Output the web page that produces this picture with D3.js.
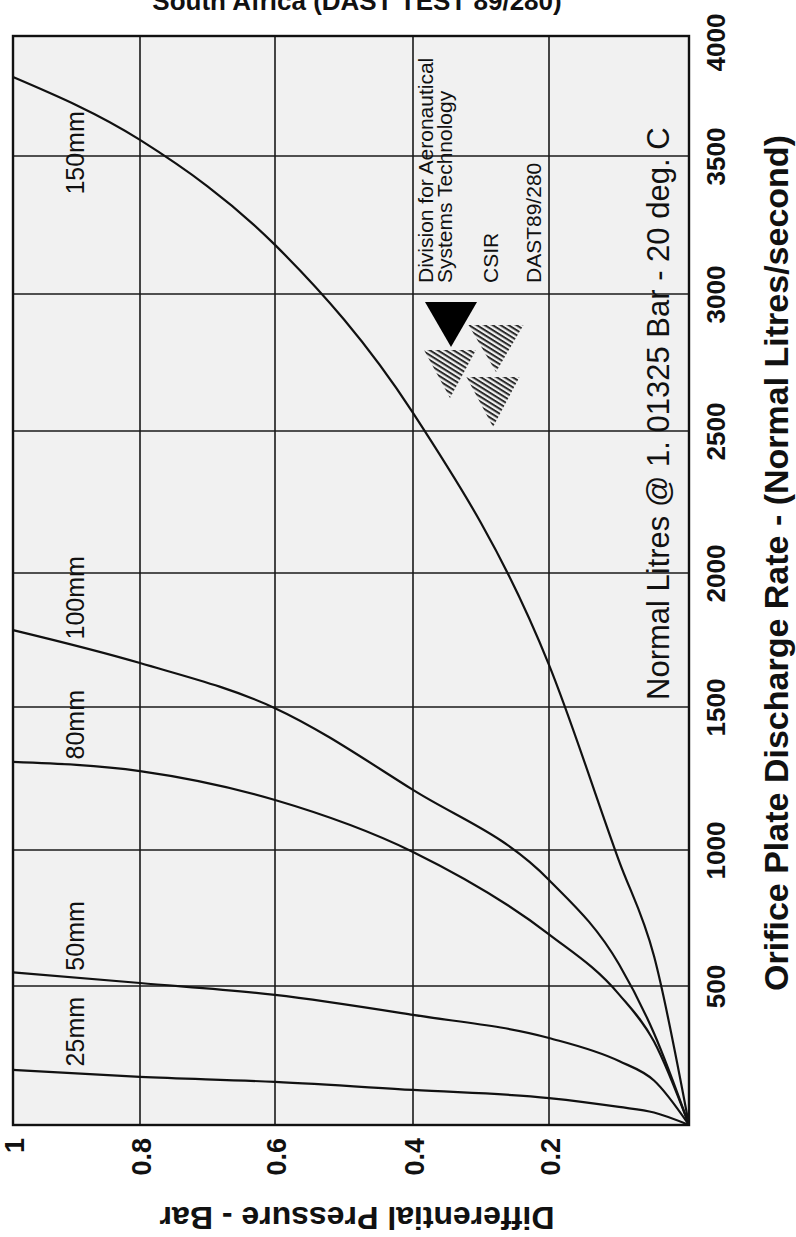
<!DOCTYPE html>
<html>
<head>
<meta charset="utf-8">
<script src="https://cdn.jsdelivr.net/npm/d3@7/dist/d3.min.js"></script>
<style>
  html, body { margin: 0; padding: 0; background: #fff; }
  svg { display: block; }
  text { font-family: "Liberation Sans", Arial, Helvetica, sans-serif; fill: #111; }
</style>
</head>
<body>
<svg id="chart" width="796" height="1237"></svg>
<script>
// Orifice plate discharge curves, DAST test 89/280 (CSIR).
const pressureTicks = [1, 0.8, 0.6, 0.4, 0.2, 0];
const pressureTickLabels = ["1", "0.8", "0.6", "0.4", "0.2", ""];
const flowTicks = [0, 500, 1000, 1500, 2000, 2500, 3000, 3500, 4000];
const flowTickLabels = ["", "500", "1000", "1500", "2000", "2500", "3000", "3500", "4000"];

// differential pressure (bar) at which each discharge rate is read
const pressures = [1, 0.8, 0.6, 0.4, 0.2, 0.1, 0.05, 0];
const plateSizes = ["25mm", "50mm", "80mm", "100mm", "150mm"];
const flow25 = [198, 173, 155, 126, 97, 65, 45, 0];
const flow50 = [550, 511, 468, 396, 313, 230, 160, 0];
const flow80 = [1308, 1276, 1175, 993, 690, 470, 300, 0];
const flow100 = [1787, 1664, 1496, 1210, 890, 580, 330, 0];
const flow150 = [3829, 3567, 3178, 2566, 1657, 960, 610, 0];
const flowSeries = [flow25, flow50, flow80, flow100, flow150];

const svg = d3.select("#chart");

// The printed grid is slightly uneven, so every tick keeps its own position.
const x = d3.scaleLinear().domain(pressureTicks).range([13, 140, 275, 413, 549, 689]);
const y = d3.scaleLinear().domain(flowTicks).range([1125, 986, 850, 707, 573, 431, 294, 156, 36]);

const [x0, x1] = [x(1), x(0)];
const [yTop, yBot] = [y(4000), y(0)];

// plot background
svg.append("rect")
  .attr("x", x0).attr("y", yTop)
  .attr("width", x1 - x0).attr("height", yBot - yTop)
  .attr("fill", "#f1f1f1");

// grid
const grid = svg.append("g").attr("stroke", "#1a1a1a").attr("stroke-width", 1.6);
grid.selectAll("line.v").data(pressureTicks.slice(1, -1)).join("line")
  .attr("x1", d => x(d)).attr("x2", d => x(d))
  .attr("y1", yTop).attr("y2", yBot);
grid.selectAll("line.h").data(flowTicks.slice(1, -1)).join("line")
  .attr("x1", x0).attr("x2", x1)
  .attr("y1", d => y(d)).attr("y2", d => y(d));

// frame
svg.append("rect")
  .attr("x", x0).attr("y", yTop)
  .attr("width", x1 - x0).attr("height", yBot - yTop)
  .attr("fill", "none").attr("stroke", "#111").attr("stroke-width", 2.4);

// axes: flow along the right edge, pressure along the bottom, labels turned
const flowAxis = d3.axisRight(y).tickValues(flowTicks).tickSize(0)
  .tickFormat((d, i) => flowTickLabels[i]);
const fa = svg.append("g").attr("transform", `translate(${x1},0)`).call(flowAxis);
fa.select(".domain").remove();
fa.selectAll("text")
  .attr("x", 0).attr("y", 0).attr("dy", null)
  .attr("text-anchor", "middle")
  .attr("transform", d => `translate(36,${d === 4000 ? 6 : 0}) rotate(-90)`)
  .style("font-size", "26px").style("font-weight", "bold").style("fill", "#111");

const pressureAxis = d3.axisBottom(x).tickValues(pressureTicks).tickSize(0)
  .tickFormat((d, i) => pressureTickLabels[i]);
const pa = svg.append("g").attr("transform", `translate(0,${yBot})`).call(pressureAxis);
pa.select(".domain").remove();
pa.selectAll("text")
  .attr("x", 0).attr("y", 0).attr("dy", null)
  .attr("text-anchor", "end")
  .attr("transform", "translate(10,13) rotate(-90)")
  .style("font-size", "27px").style("font-weight", "bold").style("fill", "#111");

// axis titles
svg.append("text")
  .attr("transform", `translate(788,${(y(2000) + y(1500)) / 2 - 77}) rotate(-90)`)
  .attr("text-anchor", "middle")
  .style("font-size", "34px").style("font-weight", "bold")
  .text("Orifice Plate Discharge Rate - (Normal Litres/second)");

svg.append("text")
  .attr("transform", `translate(357,1207) rotate(180)`)
  .attr("text-anchor", "middle")
  .style("font-size", "32px").style("font-weight", "bold")
  .text("Differential Pressure - Bar");

svg.append("text")
  .attr("x", 357).attr("y", 10)
  .attr("text-anchor", "middle")
  .style("font-size", "26px").style("font-weight", "bold")
  .text("South Africa (DAST TEST 89/280)");

// reference conditions
svg.append("text")
  .attr("transform", "translate(669,700) rotate(-90)")
  .attr("text-anchor", "start")
  .style("font-size", "31px")
  .text("Normal Litres @ 1. 01325 Bar - 20 deg. C");

// discharge curves
const line = d3.line()
  .x(d => x(d[0]))
  .y(d => y(d[1]))
  .curve(d3.curveMonotoneX);

svg.append("g").selectAll("path").data(flowSeries).join("path")
  .attr("d", s => line(pressures.map((p, i) => [p, s[i]])))
  .attr("fill", "none").attr("stroke", "#111").attr("stroke-width", 2.2);

// plate size labels, along the left edge next to each curve
const labelX = 84;
const pAtLabel = x.invert(labelX - 8);
const curveYAt = s => y(s[0] + (s[1] - s[0]) * (1 - pAtLabel) / (1 - pressures[1]));
const hangsBelow = s => curveYAt(s) - 90 < yTop;
svg.append("g").selectAll("text").data(plateSizes).join("text")
  .attr("transform", (d, i) => {
    const s = flowSeries[i], cy = curveYAt(s);
    // the top curve leaves no room above it, so its label hangs below
    return `translate(${labelX},${hangsBelow(s) ? cy + 3 : cy - 7}) rotate(-90)`;
  })
  .attr("text-anchor", (d, i) => hangsBelow(flowSeries[i]) ? "end" : "start")
  .style("font-size", "25px")
  .text(d => d);

// CSIR block
const defs = svg.append("defs");
defs.append("pattern")
  .attr("id", "hatch").attr("patternUnits", "userSpaceOnUse")
  .attr("width", 4).attr("height", 4.2)
  .attr("patternTransform", "rotate(32)")
  .append("rect").attr("width", 4).attr("height", 2).attr("fill", "#2a2a2a");

const ox = x(0.4), oy = y(3000);
const logo = svg.append("g").attr("transform", `translate(${ox},${oy})`);
const tri = (cx, top, w, h) => `M${cx - w / 2},${top}L${cx + w / 2},${top}L${cx},${top + h}Z`;
logo.append("path").attr("d", tri(38, 8, 52, 45)).attr("fill", "#000");
logo.append("path").attr("d", tri(37, 56, 52, 48)).attr("fill", "url(#hatch)");
logo.append("path").attr("d", tri(83, 31, 55, 47)).attr("fill", "url(#hatch)");
logo.append("path").attr("d", tri(80, 83, 53, 50)).attr("fill", "url(#hatch)");

const block = [
  { t: "Division for Aeronautical", dx: 20 },
  { t: "Systems Technology", dx: 39 },
  { t: "CSIR", dx: 85 },
  { t: "DAST89/280", dx: 128 }
];
svg.append("g").selectAll("text").data(block).join("text")
  .attr("transform", d => `translate(${ox + d.dx},${oy - 11}) rotate(-90)`)
  .attr("text-anchor", "start")
  .style("font-size", "21px")
  .text(d => d.t);
</script>
</body>
</html>
